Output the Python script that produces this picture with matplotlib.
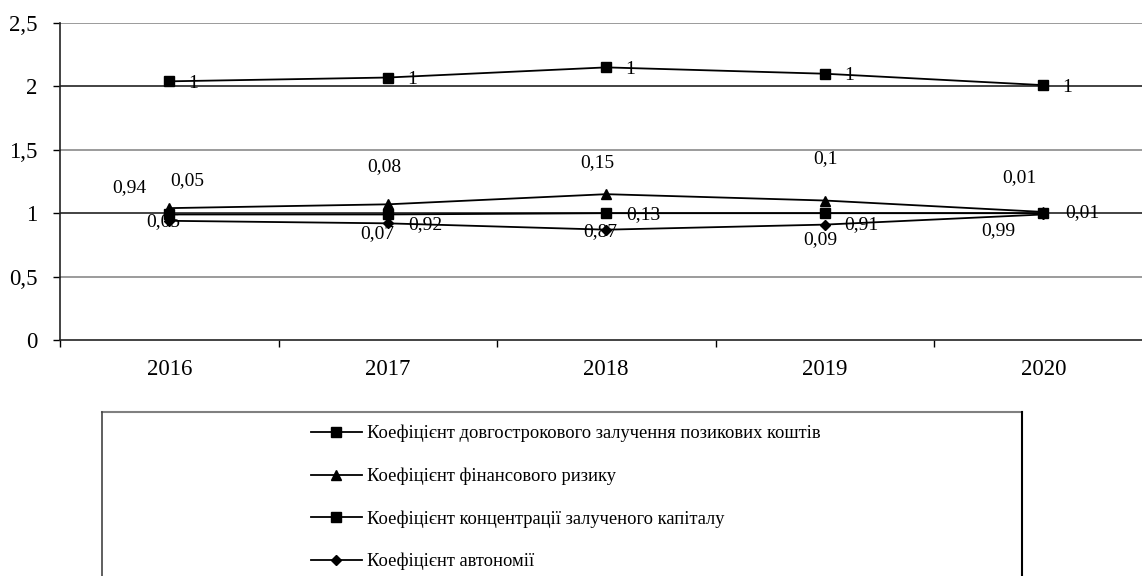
import matplotlib
matplotlib.use("Agg")
import matplotlib.pyplot as plt
from matplotlib.lines import Line2D
import numpy as np

plt.rcParams['font.family'] = ['Liberation Serif', 'DejaVu Serif']

years = ['2016', '2017', '2018', '2019', '2020']
long_term = [1, 1, 1, 1, 1]
fin_risk = [0.05, 0.08, 0.15, 0.1, 0.01]
concentration = [0.05, 0.07, 0.13, 0.09, 0.01]
autonomy = [0.94, 0.92, 0.87, 0.91, 0.99]

series_names = [
    'Коефіцієнт довгострокового залучення позикових коштів',
    'Коефіцієнт фінансового ризику',
    'Коефіцієнт концентрації залученого капіталу',
    'Коефіцієнт автономії',
]
y_ticks = [0, 0.5, 1, 1.5, 2, 2.5]
y_tick_labels = ['0', '0,5', '1', '1,5', '2', '2,5']

# label offsets in pixels (dx, dy), layout only
off_long = [(24, -2)] * 5
off_risk = [(18, 28), (-3, 38), (-9, 32), (1, 42), (-24, 34)]
off_conc = [(-6, -7), (-10, -19), (37, -1), (-4, -26), (39, 1)]
off_auto = [(-40, 33), (38, -1), (-6, -2), (37, 0), (-45, -16)]

W, H = 1142, 576
fig = plt.figure(figsize=(W / 100, H / 100), dpi=100)
ax = fig.add_axes([60 / W, (H - 340) / H, 1092.5 / W, 317 / H])

x = np.arange(len(years))
s4 = np.array(autonomy)
s3 = s4 + np.array(concentration)
s2 = s3 + np.array(fin_risk)
s1 = s2 + np.array(long_term)

# gridlines
grid_colors = {0.5: '#8a8a8a', 1: '#222222', 1.5: '#8a8a8a', 2: '#222222', 2.5: '#8a8a8a'}
for yv, c in grid_colors.items():
    ax.axhline(yv, color=c, lw=1.2, zorder=1)

markers = ['s', '^', 's', 'D']
msizes = [7, 7, 6.5, 5]
stacks = [s1, s2, s3, s4]
raw = [long_term, fin_risk, concentration, autonomy]
offsets = [off_long, off_risk, off_conc, off_auto]

for st, m, ms in zip(stacks, markers, msizes):
    ax.plot(x, st, color='black', lw=1.3, marker=m, ms=ms,
            markerfacecolor='black', markeredgecolor='black', zorder=3)

def fmt(v):
    return ('%g' % v).replace('.', ',')

for st, vals, offs in zip(stacks, raw, offsets):
    for xi, yi, v, (dx, dy) in zip(x, st, vals, offs):
        ax.annotate(fmt(v), (xi, yi), xytext=(dx, dy), textcoords='offset pixels',
                    ha='center', va='center', fontsize=14, zorder=4)

ax.set_xlim(-0.5, 4.5)
ax.set_ylim(0, 2.5)
ax.set_yticks(y_ticks)
ax.set_yticklabels(y_tick_labels, fontsize=16.5)
ax.set_xticks(x)
ax.set_xticklabels(years, fontsize=16.5)
ax.set_xticks(np.arange(-0.5, 5, 1), minor=True)
ax.tick_params(axis='x', which='major', length=0, pad=14)
ax.tick_params(axis='x', which='minor', length=5, width=1, direction='out')
ax.tick_params(axis='y', length=5, width=1, pad=11)
for s in ['top', 'right']:
    ax.spines[s].set_visible(False)
for s in ['left', 'bottom']:
    ax.spines[s].set_linewidth(1.2)
    ax.spines[s].set_color('#222222')

# legend box
x0, x1 = 102 / W, 1022 / W
ytop = (H - 412) / H
fig.add_artist(Line2D([x0, x1], [ytop, ytop], transform=fig.transFigure, color='#808080', lw=1.5))
fig.add_artist(Line2D([x0, x0], [ytop, -0.01], transform=fig.transFigure, color='#444444', lw=1.2))
fig.add_artist(Line2D([x1, x1], [ytop, -0.01], transform=fig.transFigure, color='black', lw=1.5))

handles = [Line2D([], [], color='black', lw=1.3, marker=m, ms=ms,
                  markerfacecolor='black', markeredgecolor='black')
           for m, ms in zip(['s', '^', 's', 'D'], [7, 7, 7, 5])]
fig.legend(handles, series_names, loc='upper left',
           bbox_to_anchor=(311 / W, (H - 425) / H), frameon=False,
           fontsize=13.3, handlelength=2.75, handletextpad=0.3,
           labelspacing=1.36, borderpad=0, borderaxespad=0)

fig.savefig('out.png', dpi=100)
